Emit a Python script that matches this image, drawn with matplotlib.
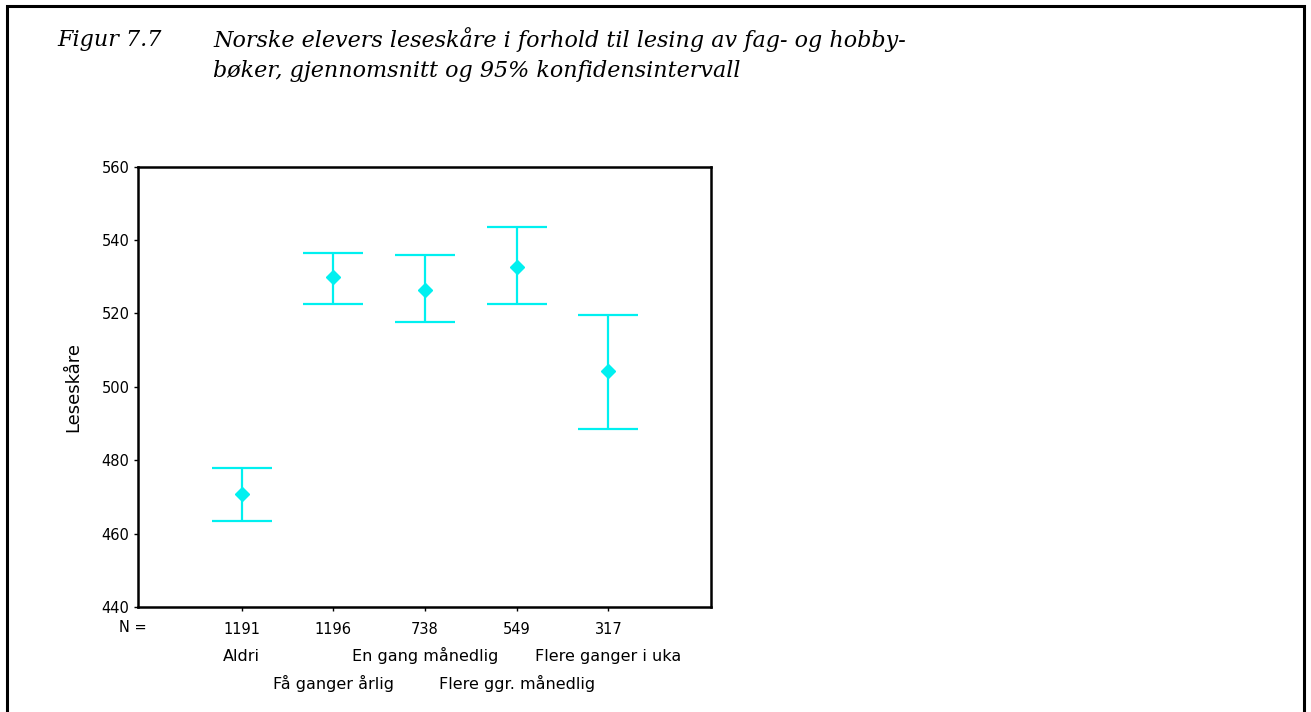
import matplotlib.pyplot as plt
from matplotlib.patches import Rectangle
from matplotlib.transforms import blended_transform_factory

# reading frequency groups, sample sizes and scores (mean, 95% CI)
categories = ["Aldri", "Få ganger årlig", "En gang månedlig",
              "Flere ggr. månedlig", "Flere ganger i uka"]
n_values = [1191, 1196, 738, 549, 317]
means = [470.7, 530.0, 526.3, 532.8, 504.4]
ci_low = [463.4, 522.6, 517.7, 522.6, 488.4]
ci_high = [478.0, 536.5, 535.9, 543.5, 519.7]
y_ticks = [440, 460, 480, 500, 520, 540, 560]

cyan = "#00f0f0"
sans = "DejaVu Sans"
serif = "DejaVu Serif"

fig = plt.figure(figsize=(13.11, 7.12), dpi=100)
W, H = 1311, 712

# outer frame around the whole figure
fig.patches.append(Rectangle((7 / W, -0.01), (1304 - 7) / W, (712 - 6) / H + 0.01,
                             transform=fig.transFigure, fill=False,
                             edgecolor="black", linewidth=2.2))

# caption
cap = dict(family=serif, style="italic", fontsize=16, va="center", ha="left")
fig.text(57 / W, 1 - 40 / H, "Figur 7.7", **cap)
fig.text(213 / W, 1 - 40 / H,
         "Norske elevers leseskåre i forhold til lesing av fag- og hobby-", **cap)
fig.text(213 / W, 1 - 71 / H,
         "bøker, gjennomsnitt og 95% konfidensintervall", **cap)

ax = fig.add_axes([138 / W, (712 - 607) / H, (711 - 138) / W, (607 - 166.7) / H])

x = list(range(1, len(categories) + 1))
err_lo = [m - lo for m, lo in zip(means, ci_low)]
err_hi = [hi - m for m, hi in zip(means, ci_high)]
ax.errorbar(x, means, yerr=[err_lo, err_hi], fmt="D", color=cyan,
            markersize=7, elinewidth=1.6, capsize=21.5, capthick=1.6)

ax.set_xlim(-0.13, 6.12)
ax.set_ylim(440, 560)
ax.set_yticks(y_ticks)
ax.set_yticklabels([str(t) for t in y_ticks], family=sans, fontsize=10.5)
ax.set_xticks(x)
ax.set_xticklabels([str(n) for n in n_values], family=sans, fontsize=10.5)
ax.tick_params(axis="both", direction="out", length=3, width=1, pad=3)
ax.tick_params(axis="x", pad=8)
for sp in ax.spines.values():
    sp.set_linewidth(1.8)

ax.set_ylabel("Leseskåre", family=sans, fontsize=13, labelpad=14)

# "N =" prefix and the category names in two staggered rows
trans = blended_transform_factory(ax.transData, fig.transFigure)
fig.text(133 / W, 1 - 627 / H, "N =", family=sans, fontsize=10.5,
         ha="center", va="center")
for i, (xi, name) in enumerate(zip(x, categories)):
    row_y = 661 if i % 2 == 0 else 689
    ax.text(xi, 1 - row_y / H, name, transform=trans, family=sans,
            fontsize=11.5, ha="center", va="baseline")

fig.savefig("out.png", dpi=100)
